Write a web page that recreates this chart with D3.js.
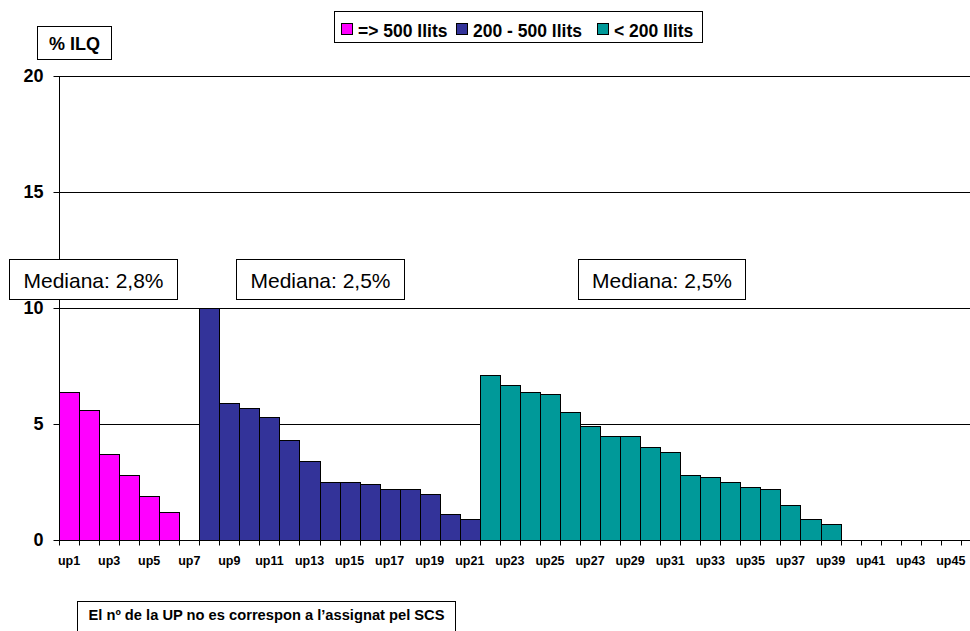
<!DOCTYPE html>
<html>
<head>
<meta charset="utf-8">
<script src="https://cdn.jsdelivr.net/npm/d3@7"></script>
<style>
  html, body { margin: 0; padding: 0; background: #fff; }
  svg { display: block; font-family: "Liberation Sans", Arial, sans-serif; }
</style>
</head>
<body>
<svg id="chart" width="970" height="631"></svg>
<script>
// ---------- DATA ----------
const categories = ["up1","up2","up3","up4","up5","up6","up7","up8","up9","up10",
  "up11","up12","up13","up14","up15","up16","up17","up18","up19","up20",
  "up21","up22","up23","up24","up25","up26","up27","up28","up29","up30",
  "up31","up32","up33","up34","up35","up36","up37","up38","up39","up40",
  "up41","up42","up43","up44","up45"];
const seriesNames = ["=> 500 llits", "200 - 500 llits", "< 200 llits"];
const seriesFirstCategory = ["up1", "up8", "up22"];
const series1Values = [6.4, 5.6, 3.7, 2.8, 1.9, 1.2];
const series2Values = [10.0, 5.9, 5.7, 5.3, 4.3, 3.4, 2.5, 2.5, 2.4, 2.2, 2.2, 2.0, 1.1, 0.9];
const series3Values = [7.1, 6.7, 6.4, 6.3, 5.5, 4.9, 4.5, 4.5, 4.0, 3.8, 2.8, 2.7, 2.5, 2.3, 2.2, 1.5, 0.9, 0.7];
const yTicks = [0, 5, 10, 15, 20];
const medianLabels = ["Mediana: 2,8%", "Mediana: 2,5%", "Mediana: 2,5%"];
const yAxisTitle = "% ILQ";
const footnote = "El nº de la UP no es correspon a l’assignat pel SCS";

// ---------- STYLE / LAYOUT ----------
const colors = ["#FF00FF", "#333399", "#009999"];
const svg = d3.select("#chart");
const plotLeft = 59, plotRight = 970, plotTop = 76, plotBottom = 540;

const x = d3.scaleBand().domain(categories).range([plotLeft, 960.8]).padding(0);
const y = d3.scaleLinear().domain([0, 20]).range([plotBottom, plotTop]);

// gridlines
svg.append("g").selectAll("line").data(yTicks.filter(d => d > 0)).join("line")
  .attr("x1", plotLeft).attr("x2", plotRight)
  .attr("y1", d => Math.round(y(d)) + 0.5).attr("y2", d => Math.round(y(d)) + 0.5)
  .attr("stroke", "#000").attr("stroke-width", 1);

// bars
const allSeries = [series1Values, series2Values, series3Values];
const barData = [];
allSeries.forEach((vals, si) => {
  const start = categories.indexOf(seriesFirstCategory[si]);
  vals.forEach((v, i) => barData.push({ cat: categories[start + i], value: v, s: si }));
});
svg.append("g").selectAll("rect").data(barData).join("rect")
  .attr("x", d => Math.round(x(d.cat)) + 0.5)
  .attr("width", d => Math.round(x(d.cat) + x.bandwidth()) - Math.round(x(d.cat)))
  .attr("y", d => Math.round(y(d.value)) + 0.5)
  .attr("height", d => Math.round(y(0)) - Math.round(y(d.value)))
  .attr("fill", d => colors[d.s])
  .attr("stroke", "#000").attr("stroke-width", 1);

// y axis
const yAxis = d3.axisLeft(y).tickValues(yTicks).tickSize(6).tickPadding(10).tickFormat(d3.format("d"));
const gy = svg.append("g").attr("transform", `translate(${plotLeft + 0.5},0)`).call(yAxis);
gy.select(".domain").attr("d", `M-0,${plotTop}V${plotBottom}`).attr("stroke", "#000");
gy.selectAll(".tick line").attr("stroke", "#000");
gy.selectAll(".tick text").attr("font-size", 18).attr("font-weight", "bold")
  .attr("fill", "#000").attr("font-family", "'Liberation Sans', Arial, sans-serif");

// x axis
const xAxis = d3.axisBottom(x).tickSize(0).tickPadding(16)
  .tickFormat((d, i) => (i % 2 === 0 ? d : ""));
const gx = svg.append("g").attr("transform", `translate(0,${plotBottom + 0.5})`).call(xAxis);
gx.select(".domain").attr("d", `M${plotLeft},0H${plotRight}`).attr("stroke", "#000");
gx.selectAll(".tick text").attr("font-size", 12.5).attr("font-weight", "bold")
  .attr("fill", "#000").attr("font-family", "'Liberation Sans', Arial, sans-serif");
// band-boundary tick marks
const boundaries = categories.map(c => x(c)).concat([x(categories[categories.length - 1]) + x.bandwidth()]);
gx.append("g").selectAll("line").data(boundaries).join("line")
  .attr("x1", d => Math.round(d) + 0.5).attr("x2", d => Math.round(d) + 0.5)
  .attr("y1", 0).attr("y2", 5).attr("stroke", "#000");

// y axis title box
const titleG = svg.append("g");
titleG.append("rect").attr("x", 37.5).attr("y", 26.5).attr("width", 74).attr("height", 33)
  .attr("fill", "#fff").attr("stroke", "#000");
titleG.append("text").attr("x", 74.5).attr("y", 49.5).attr("text-anchor", "middle")
  .attr("font-size", 18).attr("font-weight", "bold").text(yAxisTitle);

// legend
const legendG = svg.append("g");
legendG.append("rect").attr("x", 334.5).attr("y", 11.5).attr("width", 368).attr("height", 31)
  .attr("fill", "#fff").attr("stroke", "#000");
const legendSwatchX = [341, 456, 597];
seriesNames.forEach((name, i) => {
  const lx = legendSwatchX[i];
  legendG.append("rect").attr("x", lx + 0.5).attr("y", 23.5).attr("width", 11).attr("height", 11)
    .attr("fill", colors[i]).attr("stroke", "#000");
  legendG.append("text").attr("x", lx + 17).attr("y", 36.5)
    .attr("font-size", 17.5).attr("font-weight", "bold").text(name);
});

// median boxes
const medianBoxes = [{ x: 9, w: 168 }, { x: 236, w: 168 }, { x: 578, w: 167 }];
medianLabels.forEach((lab, i) => {
  const b = medianBoxes[i];
  svg.append("rect").attr("x", b.x + 0.5).attr("y", 259.5).attr("width", b.w).attr("height", 40)
    .attr("fill", "#fff").attr("stroke", "#000");
  svg.append("text").attr("x", b.x + b.w / 2 + 0.5).attr("y", 288)
    .attr("text-anchor", "middle").attr("font-size", 21).text(lab);
});

// footnote
svg.append("rect").attr("x", 77.5).attr("y", 601.5).attr("width", 378).attr("height", 40)
  .attr("fill", "#fff").attr("stroke", "#000");
svg.append("text").attr("x", 266.5).attr("y", 620).attr("text-anchor", "middle")
  .attr("font-size", 14.7).attr("font-weight", "bold").text(footnote);
</script>
</body>
</html>
